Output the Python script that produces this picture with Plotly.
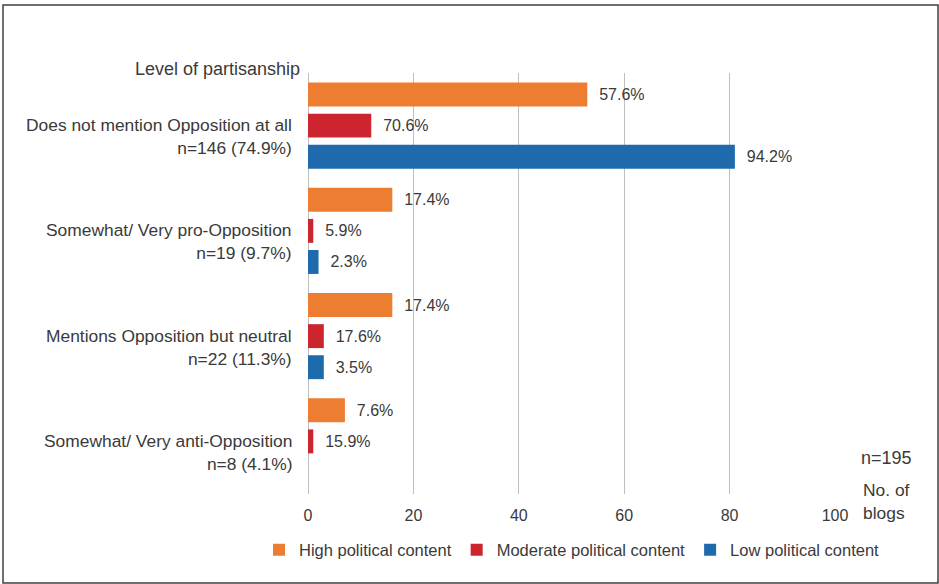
import plotly.graph_objects as go

# Partisanship categories (top to bottom)
categories = [
    "Does not mention Opposition at all",
    "Somewhat/ Very pro-Opposition",
    "Mentions Opposition but neutral",
    "Somewhat/ Very anti-Opposition",
]
category_counts = ["n=146 (74.9%)", "n=19 (9.7%)", "n=22 (11.3%)", "n=8 (4.1%)"]

# Number of blogs per level of political content
high_counts = [53, 16, 16, 7]
moderate_counts = [12, 1, 3, 1]
low_counts = [81, 2, 3, None]

# Percentage labels shown next to each bar
high_pct = ["57.6%", "17.4%", "17.4%", "7.6%"]
moderate_pct = ["70.6%", "5.9%", "17.6%", "15.9%"]
low_pct = ["94.2%", "2.3%", "3.5%", ""]

series_names = ["High political content", "Moderate political content", "Low political content"]
colors = ["#ED7D31", "#CC2530", "#1F6AAD"]

FONT = "Liberation Sans, Arial, sans-serif"
TXT = "#3a3a3a"
PAD = "\u00a0\u00a0"

fig = go.Figure()
for name, vals, pct, col in zip(series_names,
                                [high_counts, moderate_counts, low_counts],
                                [high_pct, moderate_pct, low_pct], colors):
    fig.add_trace(go.Bar(
        y=categories, x=vals, orientation="h", name=name,
        marker=dict(color=col, line=dict(width=0)),
        text=[PAD + p if p else "" for p in pct],
        textposition="outside", cliponaxis=False, constraintext="none",
        textfont=dict(family=FONT, size=16, color=TXT),
    ))

# Two-line category labels, right-aligned against the axis
for cat, cnt in zip(categories, category_counts):
    fig.add_annotation(
        x=0, xref="paper", y=cat, yref="y", xanchor="right", yanchor="middle",
        xshift=-14, yshift=-11, align="right", showarrow=False,
        text=f"{cat}<br>{cnt}", font=dict(family=FONT, size=17.4, color=TXT),
    )

fig.add_annotation(x=0, xref="paper", y=1.0095, yref="paper", xanchor="right",
                   yanchor="middle", xshift=-6, showarrow=False,
                   text="Level of partisanship", font=dict(family=FONT, size=18, color=TXT))
fig.add_annotation(x=(859 - 308) / 527, xref="paper", y=(494 - 458) / 421, yref="paper",
                   xanchor="left", yanchor="middle", showarrow=False,
                   text="n=195", font=dict(family=FONT, size=18, color=TXT))
fig.add_annotation(x=(861 - 308) / 527, xref="paper", y=(494 - 501) / 421, yref="paper",
                   xanchor="left", yanchor="middle", showarrow=False, align="left",
                   text="No. of<br>blogs", font=dict(family=FONT, size=17.4, color=TXT))

# Outer frame
fig.add_shape(type="rect", xref="paper", yref="paper",
              x0=(3 - 308) / 527, x1=(938 - 308) / 527,
              y0=(494 - 583) / 421, y1=(494 - 5) / 421,
              line=dict(color="#404040", width=1.5), fillcolor="rgba(0,0,0,0)")

fig.update_layout(
    width=939, height=584,
    margin=dict(l=308, r=104, t=73, b=90),
    paper_bgcolor="white", plot_bgcolor="white",
    barmode="group", bargap=0.114, bargroupgap=0.23,
    font=dict(family=FONT, size=16, color=TXT),
    showlegend=True,
    legend=dict(orientation="h", x=(259 - 308) / 527, xanchor="left",
                y=(494 - 550) / 421, yanchor="middle",
                font=dict(family=FONT, size=16.5, color=TXT),
                traceorder="normal", itemclick=False),
)
fig.update_xaxes(range=[0, 100], dtick=20, showgrid=True, gridcolor="#BFBFBF", gridwidth=1.3,
                 zeroline=True, zerolinecolor="#BFBFBF", zerolinewidth=1.3,
                 showline=False, ticks="", ticklabelstandoff=10,
                 tickfont=dict(family=FONT, size=16, color=TXT))
fig.update_yaxes(autorange="reversed", showticklabels=False, showgrid=False,
                 zeroline=False, showline=False, ticks="")

fig.write_html("out.html")
